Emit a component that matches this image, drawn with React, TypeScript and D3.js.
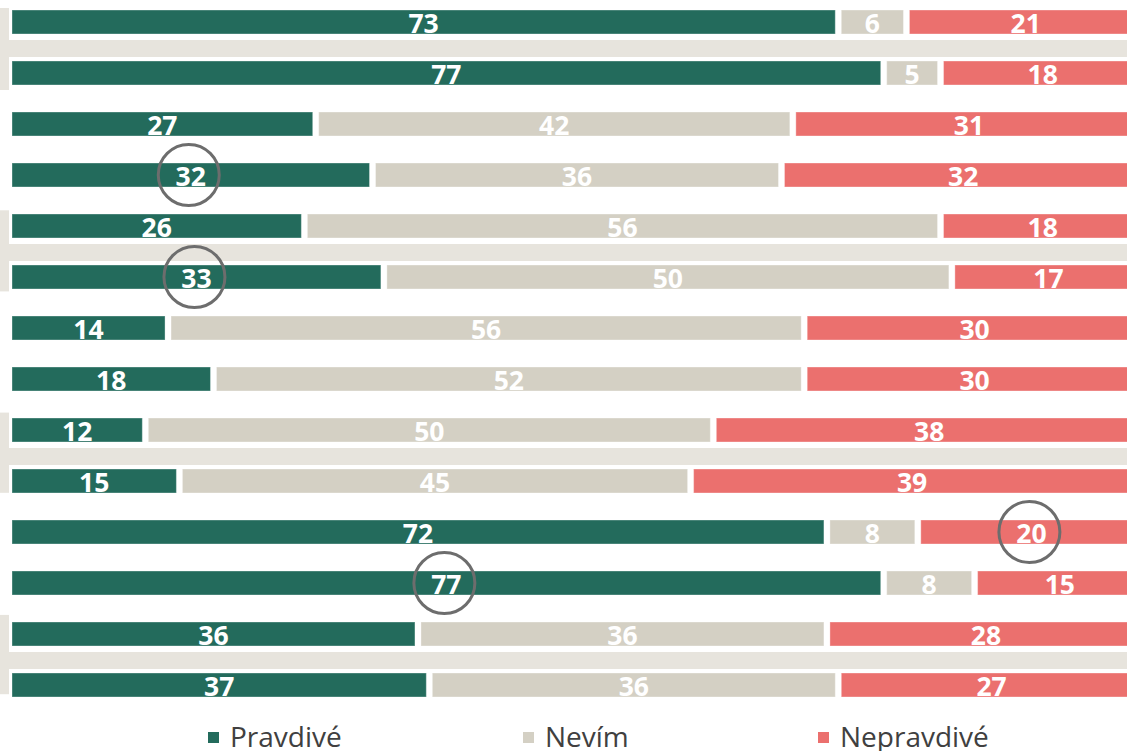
import React from "react";
import * as d3 from "d3";

const rows = ["r0","r1","r2","r3","r4","r5","r6","r7","r8","r9","r10","r11","r12","r13"];
const pravdive = [73, 77, 27, 32, 26, 33, 14, 18, 12, 15, 72, 77, 36, 37];
const nevim =    [6, 5, 42, 36, 56, 50, 56, 52, 50, 45, 8, 8, 36, 36];
const nepravdive = [21, 18, 31, 32, 18, 17, 30, 30, 38, 39, 20, 15, 28, 27];
const seriesNames = ["Pravdivé", "Nevím", "Nepravdivé"];
const seriesColors = ["#236b5c", "#d4d0c4", "#eb706e"];
// pairs of rows that get a shaded group background
const shadedPairs = [[0, 1], [4, 5], [8, 9], [12, 13]];
// highlighted (circled) labels: row index, series index
const circled = [[3, 0], [5, 0], [10, 2], [11, 0]];

const W = 1127;
const H = 751;

export default function App() {
  const x = d3.scaleLinear().domain([0, 100]).range([9, 1145]);
  const y = d3.scaleBand<string>().domain(rows).range([10, 697]).paddingInner(27 / 51).paddingOuter(0);
  const bw = y.bandwidth();
  const seriesVals = [pravdive, nevim, nepravdive];
  const gap = 3;
  const font = "'Open Sans', 'Noto Sans', sans-serif";

  const segs: any[] = [];
  rows.forEach((r, i) => {
    let acc = 0;
    seriesVals.forEach((vals, s) => {
      const v = vals[i];
      const x0 = x(acc) + gap;
      const x1 = x(acc + v) - gap;
      segs.push({ r, i, s, v, x0, x1 });
      acc += v;
    });
  });

  const legendX = [208, 523, 818];

  return (
    <svg width={W} height={H} style={{ position: "absolute", left: 0, top: 0, display: "block" }}>
      <rect x={0} y={0} width={W} height={H} fill="#fff" />
      {shadedPairs.map(([a, b], k) => {
        const ya = y(rows[a])!;
        const yb = y(rows[b])!;
        return (
          <g key={"p" + k}>
            <rect x={0} y={ya - 2 - 1.7 * k} width={9} height={yb + bw - ya + 7 - 0.9 * k} fill="#e7e4dd" />
            <rect x={0} y={ya + bw + 6} width={W} height={yb - ya - bw - 12 + 2} fill="#e7e4dd" />
          </g>
        );
      })}
      {segs.map((d, j) => (
        <rect key={"s" + j} x={d.x0} y={y(d.r)!} width={Math.max(0, d.x1 - d.x0)} height={bw}
          fill={seriesColors[d.s]} stroke="#ffffff" strokeOpacity={0.35} strokeWidth={1} />
      ))}
      {segs.map((d, j) => (
        <text key={"t" + j} x={(d.x0 + d.x1) / 2} y={y(d.r)! + bw / 2 + 1} textAnchor="middle"
          dominantBaseline="central" fill="#ffffff" fontFamily={font} fontWeight={700} fontSize={26.5}>
          {d.v}
        </text>
      ))}
      {circled.map(([ri, si], k) => {
        const d = segs.find((s) => s.i === ri && s.s === si);
        return (
          <circle key={"c" + k} cx={(d.x0 + d.x1) / 2 - 2} cy={y(d.r)! + bw / 2} r={30.5}
            fill="none" stroke="#6d6d6d" strokeWidth={3} />
        );
      })}
      {seriesNames.map((n, k) => (
        <g key={"l" + k}>
          <rect x={legendX[k]} y={732} width={11} height={11} fill={seriesColors[k]} />
          <text x={legendX[k] + 22} y={747} fill="#404040" fontFamily={font} fontSize={28}>{n}</text>
        </g>
      ))}
    </svg>
  );
}
